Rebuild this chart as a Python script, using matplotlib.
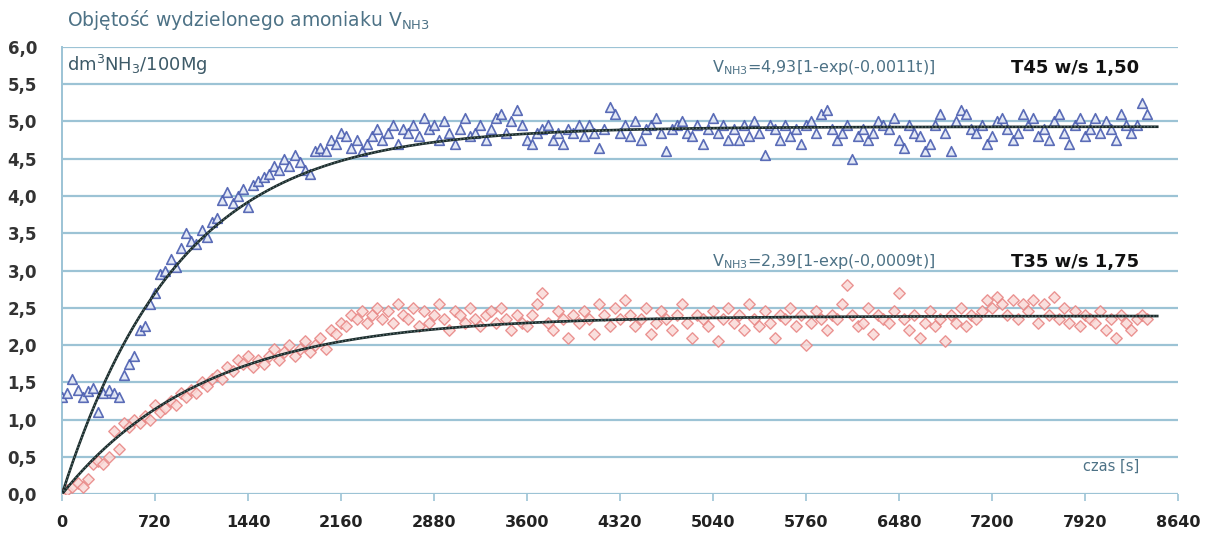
import numpy as np
import matplotlib
matplotlib.use("Agg")
import matplotlib.pyplot as plt

# Time grid of the measurements [s]
t_step = 40
t_blue = np.arange(0, 8401, t_step)
t_red = np.arange(0, 8401, t_step)

# T45 w/s 1,50 - blue triangles
v_blue = [
    1.30, 1.35, 1.55, 1.40, 1.30, 1.38, 1.42, 1.10, 1.35, 1.40,
    1.35, 1.30, 1.60, 1.75, 1.85, 2.20, 2.25, 2.55, 2.70, 2.95,
    3.00, 3.15, 3.05, 3.30, 3.50, 3.40, 3.35, 3.55, 3.45, 3.65,
    3.70, 3.95, 4.05, 3.90, 4.00, 4.10, 3.85, 4.15, 4.20, 4.25,
    4.30, 4.40, 4.35, 4.50, 4.40, 4.55, 4.45, 4.35, 4.30, 4.60,
    4.65, 4.60, 4.75, 4.70, 4.85, 4.80, 4.65, 4.75, 4.60, 4.70,
    4.80, 4.90, 4.75, 4.85, 4.95, 4.70, 4.90, 4.85, 4.95, 4.80,
    5.05, 4.90, 4.95, 4.75, 5.00, 4.85, 4.70, 4.90, 5.05, 4.80,
    4.85, 4.95, 4.75, 4.90, 5.05, 5.10, 4.85, 5.00, 5.15, 4.95,
    4.75, 4.70, 4.85, 4.90, 4.95, 4.75, 4.85, 4.70, 4.90, 4.85,
    4.95, 4.80, 4.95, 4.85, 4.65, 4.90, 5.20, 5.10, 4.85, 4.95,
    4.80, 5.00, 4.75, 4.90, 4.95, 5.05, 4.85, 4.60, 4.90, 4.95,
    5.00, 4.85, 4.80, 4.95, 4.70, 4.90, 5.05, 4.85, 4.95, 4.75,
    4.90, 4.75, 4.95, 4.80, 5.00, 4.85, 4.55, 4.95, 4.90, 4.75,
    4.95, 4.80, 4.90, 4.70, 4.95, 5.00, 4.85, 5.10, 5.15, 4.90,
    4.75, 4.85, 4.95, 4.50, 4.80, 4.90, 4.75, 4.85, 5.00, 4.95,
    4.90, 5.05, 4.75, 4.65, 4.95, 4.85, 4.80, 4.60, 4.70, 4.95,
    5.10, 4.85, 4.60, 5.00, 5.15, 5.10, 4.90, 4.85, 4.95, 4.70,
    4.80, 5.00, 5.05, 4.90, 4.75, 4.85, 5.10, 4.95, 5.05, 4.80,
    4.90, 4.75, 5.00, 5.10, 4.85, 4.70, 4.95, 5.05, 4.80, 4.90,
    5.05, 4.85, 5.00, 4.90, 4.75, 5.10, 4.95, 4.85, 4.95, 5.25,
    5.10,
]

# T35 w/s 1,75 - red diamonds
v_red = [
    0.00, 0.05, 0.10, 0.15, 0.10, 0.20, 0.40, 0.45, 0.40, 0.50,
    0.85, 0.60, 0.95, 0.90, 1.00, 0.95, 1.05, 1.00, 1.20, 1.10,
    1.15, 1.25, 1.20, 1.35, 1.30, 1.40, 1.35, 1.50, 1.45, 1.55,
    1.60, 1.55, 1.70, 1.65, 1.80, 1.75, 1.85, 1.70, 1.80, 1.75,
    1.85, 1.95, 1.80, 1.90, 2.00, 1.85, 1.95, 2.05, 1.90, 2.00,
    2.10, 1.95, 2.20, 2.15, 2.30, 2.25, 2.40, 2.35, 2.45, 2.30,
    2.40, 2.50, 2.35, 2.45, 2.30, 2.55, 2.40, 2.35, 2.50, 2.25,
    2.45, 2.30, 2.40, 2.55, 2.35, 2.20, 2.45, 2.40, 2.30, 2.50,
    2.35, 2.25, 2.40, 2.45, 2.30, 2.50, 2.35, 2.20, 2.40, 2.30,
    2.25, 2.40, 2.55, 2.70, 2.30, 2.20, 2.45, 2.35, 2.10, 2.40,
    2.30, 2.45, 2.35, 2.15, 2.55, 2.40, 2.25, 2.50, 2.35, 2.60,
    2.40, 2.25, 2.35, 2.50, 2.15, 2.30, 2.45, 2.35, 2.20, 2.40,
    2.55, 2.30, 2.10, 2.40, 2.35, 2.25, 2.45, 2.05, 2.35, 2.50,
    2.30, 2.40, 2.20, 2.55, 2.35, 2.25, 2.45, 2.30, 2.10, 2.40,
    2.35, 2.50, 2.25, 2.40, 2.00, 2.30, 2.45, 2.35, 2.20, 2.40,
    2.35, 2.55, 2.80, 2.40, 2.25, 2.30, 2.50, 2.15, 2.40, 2.35,
    2.30, 2.45, 2.70, 2.35, 2.20, 2.40, 2.10, 2.30, 2.45, 2.25,
    2.35, 2.05, 2.40, 2.30, 2.50, 2.25, 2.40, 2.35, 2.45, 2.60,
    2.50, 2.65, 2.55, 2.40, 2.60, 2.35, 2.55, 2.45, 2.60, 2.30,
    2.55, 2.40, 2.65, 2.35, 2.50, 2.30, 2.45, 2.25, 2.40, 2.35,
    2.30, 2.45, 2.20, 2.35, 2.10, 2.40, 2.30, 2.20, 2.35, 2.40,
    2.35,
]

# Fit parameters given on the chart: V = a[1 - exp(-k t)]
fit_blue = (4.93, 0.0011)
fit_red = (2.39, 0.0009)

x_ticks = list(range(0, 8641, 720))
y_ticks = [i * 0.5 for i in range(13)]

grid_col = "#9cc3d5"
text_col = "#4d7286"

fig = plt.figure(figsize=(12.05, 5.37), dpi=100)
ax = fig.add_axes([0.0515, 0.080, 0.926, 0.8325])

for y in y_ticks:
    ax.axhline(y, color=grid_col, lw=1.6, zorder=1)

ax.scatter(t_red, v_red, marker="D", s=34, facecolor="#fadad8",
           edgecolor="#e88482", linewidths=1.0, alpha=0.85, zorder=3)
ax.scatter(t_blue, v_blue, marker="^", s=48, facecolor="#e3e8f6",
           edgecolor="#4a5db0", linewidths=1.2, alpha=0.9, zorder=3)

# Fitted curves
tt = np.linspace(0, 8480, 600)
for a, k in (fit_blue, fit_red):
    vv = a * (1 - np.exp(-k * tt))
    ax.plot(tt, vv, color="#1a2a2a", lw=1.9, zorder=4)
    ax.plot(tt, vv, color="#5a7070", lw=1.0, ls=(0, (1, 1.5)), zorder=5)

ax.set_xlim(0, 8640)
ax.set_ylim(0, 6.0)
ax.set_xticks(x_ticks)
ax.set_xticklabels([str(x) for x in x_ticks], fontsize=11.5, fontweight="bold",
                   color="#222222", family="Liberation Sans Narrow")
ax.set_yticks(y_ticks)
ax.set_yticklabels([f"{y:.1f}".replace(".", ",") for y in y_ticks],
                   fontsize=12, fontweight="bold", color="#333333")
ax.tick_params(axis="x", length=5, color=grid_col, width=1.2, pad=10)
ax.tick_params(axis="y", length=0, pad=18)

for s in ("top", "right", "bottom"):
    ax.spines[s].set_visible(False)
ax.spines["left"].set_color(grid_col)
ax.spines["left"].set_linewidth(1.4)

# Labels
fig.text(0.056, 0.962, "Objętość wydzielonego amoniaku V$_{\\mathregular{NH3}}$",
         fontsize=13.5, color=text_col, ha="left", va="center")
ax.text(40, 5.76, "dm$^{\\mathregular{3}}$NH$_{\\mathregular{3}}$/100Mg",
        fontsize=13, color="#3d5a68", ha="left", va="center")
ax.text(5900, 5.72, "V$_{\\mathregular{NH3}}$=4,93[1-exp(-0,0011t)]",
        fontsize=11.5, color=text_col, ha="center", va="center")
ax.text(8340, 5.72, "T45 w/s 1,50", fontsize=13, fontweight="bold",
        color="#111111", ha="right", va="center")
ax.text(5900, 3.12, "V$_{\\mathregular{NH3}}$=2,39[1-exp(-0,0009t)]",
        fontsize=11.5, color=text_col, ha="center", va="center")
ax.text(8340, 3.12, "T35 w/s 1,75", fontsize=13, fontweight="bold",
        color="#111111", ha="right", va="center")
ax.text(8340, 0.37, "czas [s]", fontsize=10.5, color=text_col,
        ha="right", va="center")

fig.savefig("out.png", dpi=100)
